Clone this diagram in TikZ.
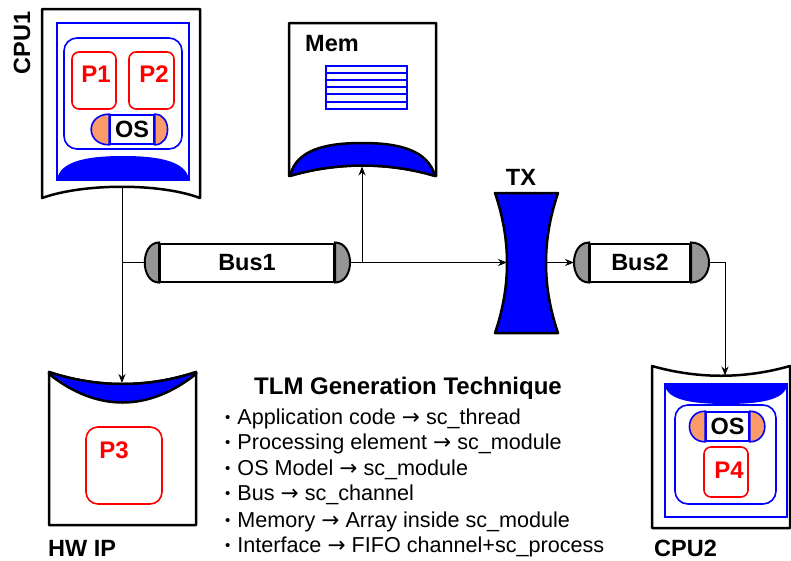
\documentclass[tikz,border=0pt]{standalone}
\usepackage{fontspec}
\setmainfont{Liberation Sans}
\newfontfamily\arrowfont{DejaVu Sans}
\usetikzlibrary{arrows.meta}
\definecolor{capgray}{RGB}{150,150,150}
\definecolor{osorange}{RGB}{250,155,105}
\newcommand\tlmbullet{{\fontsize{15}{15}\selectfont\raisebox{2pt}{•}}\hspace{7pt}}
\newcommand\tlmto{{\arrowfont →}}
\begin{document}
\begin{tikzpicture}[x=1pt,y=-1pt,
  outline/.style={draw=black,line width=2.5pt,line join=round},
  bluebox/.style={draw=blue,line width=2.5pt},
  blueround/.style={draw=blue,line width=1.6pt,rounded corners=13pt},
  proc/.style={draw=red,line width=1.6pt,rounded corners=7pt},
  lbl/.style={font=\fontsize{23.5}{27}\selectfont\bfseries,inner sep=0pt},
  plbl/.style={font=\fontsize{24}{27}\selectfont\bfseries,inner sep=0pt,text=red},
  wire/.style={draw=black,line width=1pt},
  arr/.style={wire,-{Stealth[length=9pt,width=7pt]}},
  busbody/.style={draw=black,line width=2pt,fill=white,minimum height=38pt,inner sep=0pt,lbl},
  buscap/.style={draw=black,line width=2pt,fill=capgray},
  oscap/.style={draw=blue,line width=1.6pt,fill=osorange},
  osbody/.style={draw=blue,line width=1.6pt,fill=white,inner sep=0pt,lbl},
  item/.style={anchor=base west,font=\fontsize{21.6}{25}\selectfont,inner sep=0pt}
]
\useasboundingbox (0,0) rectangle (791,560);

% ---------- CPU1 ----------
\draw[outline,fill=white] (42,9) -- (200,9) -- (200,198) .. controls (160,183) and (84,183) .. (42,198) -- cycle;
\draw[bluebox] (57,23) rectangle (189,180);
\fill[blue] (58,180) -- (58,176) .. controls (64,159) and (95,156) .. (123,156) .. controls (151,156) and (182,159) .. (188,176) -- (188,180) -- cycle;
\draw[blueround] (64,38) rectangle (182,149);
\draw[proc] (72,52) rectangle (116,109);
\node[plbl] (p1) at (96,74) {P1};
\draw[proc] (129,52) rectangle (174,109);
\node[plbl] (p2) at (154,74) {P2};
\node[osbody,minimum width=44pt,minimum height=29pt] (os1) at (132,129.5) {OS};
\draw[oscap] (os1.north west) .. controls +(-24,0) and +(-24,0) .. (os1.south west) -- cycle;
\draw[oscap] (os1.north east) .. controls +(17,0) and +(17,0) .. (os1.south east) -- cycle;
\node[lbl,rotate=90] (cpu1lbl) at (22,43) {CPU1};
\coordinate (cpu1s) at (122,187.5);

% ---------- Memory ----------
\draw[outline,fill=white] (289,23) -- (436,23) -- (436,176) .. controls (388,162) and (337,162) .. (289,176) -- cycle;
\draw[outline,fill=blue] (290,176) .. controls (296,150) and (325,143) .. (362,143) .. controls (399,143) and (428,150) .. (435,176) .. controls (388,162) and (337,162) .. (290,176) -- cycle;
\node[lbl,anchor=west] (memlbl) at (305,44) {Mem};
\draw[blue,line width=1.5pt] (326,66) rectangle (407,109);
\foreach \yy in {73,80,87,94,102} \draw[blue,line width=1.2pt] (326,\yy) -- (407,\yy);
\coordinate (mems) at (362,166.5);

% ---------- Transducer ----------
\draw[outline,fill=blue] (495,193) -- (558,193) .. controls (542,240) and (542,286) .. (558,333) -- (495,333) .. controls (511,286) and (511,240) .. (495,193) -- cycle;
\node[lbl] (txlbl) at (521,177) {TX};
\coordinate (txw) at (507,262.5);
\coordinate (txe) at (546,262.5);

% ---------- HW IP ----------
\draw[outline,fill=white] (49,372) .. controls (97,388) and (148,388) .. (196,372) -- (196,525) -- (49,525) -- cycle;
\draw[outline,fill=blue] (49,372) .. controls (97,388) and (148,388) .. (196,372) -- (196,374) .. controls (148,412) and (97,412) .. (49,374) -- cycle;
\draw[proc,rounded corners=12pt] (86,427) rectangle (162,504);
\node[plbl] (p3) at (114,450) {P3};
\node[lbl,anchor=west] (hwlbl) at (48,548) {HW IP};
\coordinate (hwipn) at (122,383);

% ---------- CPU2 ----------
\draw[outline,fill=white] (652,366) .. controls (698,379) and (744,379) .. (790,366) -- (790,528) -- (652,528) -- cycle;
\draw[bluebox] (665,384) rectangle (787,517);
\fill[blue] (666,384) -- (786,384) -- (786,389) .. controls (780,401) and (755,404) .. (726,404) .. controls (697,404) and (672,401) .. (666,389) -- cycle;
\draw[blueround] (675,405) rectangle (776,504);
\node[osbody,minimum width=43pt,minimum height=29pt] (os2) at (727.5,426.5) {OS};
\draw[oscap] (os2.north west) .. controls +(-21,0) and +(-21,0) .. (os2.south west) -- cycle;
\draw[oscap] (os2.north east) .. controls +(20,0) and +(20,0) .. (os2.south east) -- cycle;
\draw[proc] (704,447) rectangle (748,497);
\node[plbl] (p4) at (729,470) {P4};
\node[lbl,anchor=west] (cpu2lbl) at (654,548) {CPU2};
\coordinate (cpu2n) at (725,375.5);

% ---------- Buses ----------
\node[busbody,minimum width=174pt] (bus1) at (247,262.5) {Bus1};
\draw[buscap] (bus1.north west) .. controls +(-19,0) and +(-19,0) .. (bus1.south west) -- cycle;
\draw[buscap] (bus1.north east) .. controls +(20,0) and +(20,0) .. (bus1.south east) -- cycle;
\coordinate (bus1w) at ([xshift=-14pt]bus1.west);
\coordinate (bus1e) at ([xshift=15pt]bus1.east);

\node[busbody,minimum width=100pt] (bus2) at (640,262.5) {Bus2};
\draw[buscap] (bus2.north west) .. controls +(-20,0) and +(-20,0) .. (bus2.south west) -- cycle;
\draw[buscap] (bus2.north east) .. controls +(24,0) and +(24,0) .. (bus2.south east) -- cycle;
\coordinate (bus2w) at ([xshift=-15pt]bus2.west);
\coordinate (bus2e) at ([xshift=18pt]bus2.east);

% ---------- Connectors ----------
\coordinate (j1) at (cpu1s |- bus1w);
\coordinate (j2) at (mems |- bus1e);
\coordinate (j3) at (cpu2n |- bus2e);
\draw[arr] (cpu1s) -- (hwipn);
\draw[wire] (j1) -- (bus1w);
\draw[wire] (bus1e) -- (j2);
\draw[arr] (j2) -- (mems);
\draw[arr] (j2) -- (txw);
\draw[arr] (txe) -- (bus2w);
\draw[arr] (bus2e) -- (j3) -- (cpu2n);

% ---------- Legend ----------
\node[font=\fontsize{24}{28}\selectfont\bfseries,anchor=base,inner sep=0pt] (title) at (408,394.5) {TLM Generation Technique};
\node[item] (i1) at (225,424.5) {\tlmbullet Application code \tlmto{} sc\_thread};
\node[item] (i2) at (225,449.5) {\tlmbullet Processing element \tlmto{} sc\_module};
\node[item] (i3) at (225,475.5) {\tlmbullet OS Model \tlmto{} sc\_module};
\node[item] (i4) at (225,500.5) {\tlmbullet Bus \tlmto{} sc\_channel};
\node[item] (i5) at (225,527) {\tlmbullet Memory \tlmto{} Array inside sc\_module};
\node[item] (i6) at (225,552.5) {\tlmbullet Interface \tlmto{} FIFO channel+sc\_process};
\end{tikzpicture}
\end{document}
